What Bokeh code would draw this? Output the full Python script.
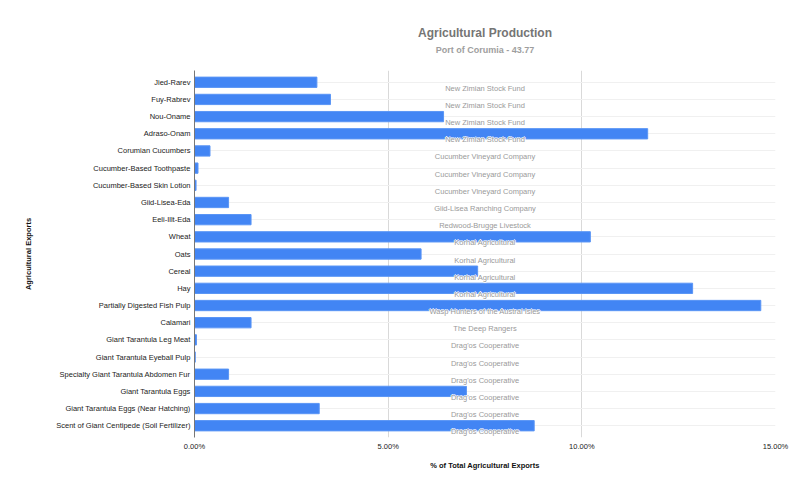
from bokeh.plotting import figure
from bokeh.layouts import column
from bokeh.models import FactorRange, FixedTicker, CustomJSTickFormatter, ColumnDataSource
from bokeh.core.properties import value
from bokeh.embed import file_html
from bokeh.resources import INLINE

categories = [
    "Jied-Rarev", "Fuy-Rabrev", "Nou-Oname", "Adraso-Onam", "Corumian Cucumbers",
    "Cucumber-Based Toothpaste", "Cucumber-Based Skin Lotion", "Giid-Lisea-Eda",
    "Eeli-Illt-Eda", "Wheat", "Oats", "Cereal", "Hay", "Partially Digested Fish Pulp",
    "Calamari", "Giant Tarantula Leg Meat", "Giant Tarantula Eyeball Pulp",
    "Specialty Giant Tarantula Abdomen Fur", "Giant Tarantula Eggs",
    "Giant Tarantula Eggs (Near Hatching)", "Scent of Giant Centipede (Soil Fertilizer)",
]
shares = [3.16, 3.51, 6.43, 11.70, 0.40, 0.09, 0.04, 0.88, 1.46, 10.22, 5.85, 7.31,
          12.86, 14.62, 1.46, 0.05, 0.02, 0.88, 7.02, 3.22, 8.77]
producers = [
    "New Zimian Stock Fund", "New Zimian Stock Fund", "New Zimian Stock Fund",
    "New Zimian Stock Fund", "Cucumber Vineyard Company", "Cucumber Vineyard Company",
    "Cucumber Vineyard Company", "Giid-Lisea Ranching Company", "Redwood-Brugge Livestock",
    "Korhal Agricultural", "Korhal Agricultural", "Korhal Agricultural", "Korhal Agricultural",
    "Wasp Hunters of the Austral Isles", "The Deep Rangers", "Drag'os Cooperative",
    "Drag'os Cooperative", "Drag'os Cooperative", "Drag'os Cooperative",
    "Drag'os Cooperative", "Drag'os Cooperative",
]
x_ticks = [0, 5, 10, 15]
title_text = "Agricultural Production"
subtitle_text = "Port of Corumia - 43.77"
x_title = "% of Total Agricultural Exports"
y_title = "Agricultural Exports"

FONT = "Liberation Sans"
X0, X1 = 0, 15
W = 800
TOP_H = 70
MAIN_H = 425
BL, BR, BB = 194, 25, 58

# ---- title strip ----
t = figure(width=W, height=TOP_H, output_backend="svg", toolbar_location=None,
           x_range=(0, W), y_range=(TOP_H, 0), x_axis_type=None, y_axis_type=None,
           min_border=0)
t.outline_line_color = None
t.grid.visible = False
t.text(x=[W / 2], y=[32], text=[title_text], text_align="center", text_baseline="middle",
       text_font=value(FONT), text_font_size="12px", text_font_style="bold",
       text_color="#757575")
t.text(x=[W / 2], y=[49.5], text=[subtitle_text], text_align="center",
       text_baseline="middle", text_font=value(FONT), text_font_size="9px",
       text_font_style="bold", text_color="#9e9e9e")

# ---- main chart ----
p = figure(width=W, height=MAIN_H, output_backend="svg", toolbar_location=None,
           x_range=(X0, X1),
           y_range=FactorRange(factors=list(reversed(categories)), range_padding=0.185,
                               range_padding_units="absolute"),
           min_border_left=BL, min_border_right=BR, min_border_top=0, min_border_bottom=BB)
p.outline_line_color = None
p.background_fill_color = "white"

src = ColumnDataSource(dict(cat=categories, val=shares, prod=producers,
                            mid=[(X0 + X1) / 2] * len(categories)))

p.hbar(y="cat", right="val", left=0, height=0.6, source=src,
       fill_color="#4285f4", line_color="#5a95f5", line_width=1)

# annotations with white halo
for dx, dy in [(-1, 0), (1, 0), (0, -1), (0, 1)]:
    p.text(x="mid", y="cat", text="prod", source=src, text_align="center",
           text_baseline="middle", text_font=value(FONT), text_font_size="7.5px",
           text_color="white", x_offset=dx, y_offset=6 + dy)
p.text(x="mid", y="cat", text="prod", source=src, text_align="center",
       text_baseline="middle", text_font=value(FONT), text_font_size="7.5px",
       text_color="#9a9a9a", y_offset=6)

# axes
p.xaxis.ticker = FixedTicker(ticks=x_ticks)
p.xaxis.formatter = CustomJSTickFormatter(code="return tick.toFixed(2) + '%';")
p.xaxis.axis_line_color = None
p.xaxis.major_tick_line_color = None
p.xaxis.minor_tick_line_color = None
p.xaxis.major_tick_out = 0
p.xaxis.major_tick_in = 0
p.xaxis.minor_tick_out = 0
p.xaxis.major_label_standoff = 4
p.xaxis.major_label_text_font = FONT
p.xaxis.major_label_text_font_size = "7.5px"
p.xaxis.major_label_text_color = "#222222"
p.xaxis.axis_label = x_title
p.xaxis.axis_label_standoff = 7
p.xaxis.axis_label_text_font = FONT
p.xaxis.axis_label_text_font_size = "7.5px"
p.xaxis.axis_label_text_font_style = "bold"
p.xaxis.axis_label_text_color = "#111111"

p.yaxis.axis_line_color = "#777777"
p.yaxis.major_tick_line_color = None
p.yaxis.minor_tick_line_color = None
p.yaxis.major_tick_out = 0
p.yaxis.major_tick_in = 0
p.yaxis.minor_tick_out = 0
p.yaxis.major_label_standoff = 4
p.yaxis.major_label_text_font = FONT
p.yaxis.major_label_text_font_size = "7.5px"
p.yaxis.major_label_text_color = "#222222"
p.yaxis.axis_label = y_title
p.yaxis.axis_label_standoff = 20
p.yaxis.axis_label_text_font = FONT
p.yaxis.axis_label_text_font_size = "7.5px"
p.yaxis.axis_label_text_font_style = "bold"
p.yaxis.axis_label_text_color = "#111111"

p.xgrid.ticker = FixedTicker(ticks=x_ticks)
p.xgrid.grid_line_color = "#d9d9d9"
p.ygrid.grid_line_color = "#f0f0f0"

layout = column(t, p, spacing=0)
open("out.html", "w").write(file_html(layout, INLINE))
